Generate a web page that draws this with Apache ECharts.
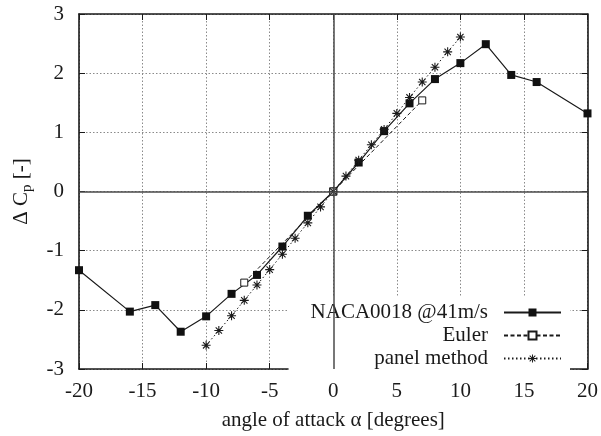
<!DOCTYPE html>
<html>
<head>
<meta charset="utf-8">
<script src="https://cdn.jsdelivr.net/npm/echarts@6/dist/echarts.min.js"></script>
<style>
  html, body { margin: 0; padding: 0; background: #fff; }
  #chart { width: 601px; height: 436px; }
</style>
</head>
<body>
<div id="chart"></div>
<script>
// Pressure difference coefficient vs angle of attack
const nacaAngles = [-20, -16, -14, -12, -10, -8, -6, -4, -2, 0, 2, 4, 6, 8, 10, 12, 14, 16, 20];
const nacaValues = [-1.33, -2.03, -1.92, -2.37, -2.11, -1.73, -1.41, -0.93, -0.41, 0, 0.49, 1.02, 1.49, 1.90, 2.17, 2.49, 1.97, 1.85, 1.32];

const eulerAngles = [-7, 0, 7];
const eulerValues = [-1.54, 0, 1.54];

const panelAngles = [-10, -9, -8, -7, -6, -5, -4, -3, -2, -1, 0, 1, 2, 3, 4, 5, 6, 7, 8, 9, 10];
const panelValues = [-2.60, -2.35, -2.10, -1.84, -1.58, -1.32, -1.06, -0.79, -0.53, -0.26, 0, 0.26, 0.53, 0.79, 1.05, 1.32, 1.59, 1.85, 2.10, 2.36, 2.61];

const seriesNames = ['NACA0018 @41m/s', 'Euler', 'panel method'];
const xTicks = { min: -20, max: 20, interval: 5 };
const yTicks = { min: -3, max: 3, interval: 1 };

const FONT = 'Liberation Serif';
const INK = '#1a1a1a';
const FS = 21;

// asterisk marker: a plus and a cross built from thin bars
const asterisk = 'path://M-0.6,-5L0.6,-5L0.6,5L-0.6,5Z' +
  'M-5,-0.6L5,-0.6L5,0.6L-5,0.6Z' +
  'M-3.1,-3.95L3.95,3.1L3.1,3.95L-3.95,-3.1Z' +
  'M-3.95,3.1L3.1,-3.95L3.95,-3.1L-3.1,3.95Z';

const pairs = (xs, ys) => xs.map((x, i) => [x, ys[i]]);

const frameLine = { show: true, onZero: false, lineStyle: { color: INK, width: 1.6 } };
const innerTick = { show: true, inside: true, length: 6, lineStyle: { color: INK, width: 1 } };
const gridLine = { show: true, lineStyle: { color: '#8a8a8a', width: 1, type: [1.5, 2] } };

const chart = echarts.init(document.getElementById('chart'), null, { renderer: 'canvas' });

chart.setOption({
  backgroundColor: '#fff',
  animation: false,
  textStyle: { fontFamily: FONT },
  grid: { left: 79, right: 13, top: 14, bottom: 64, containLabel: false },
  xAxis: [
    {
      type: 'value', position: 'bottom', ...xTicks,
      axisLine: frameLine, axisTick: innerTick, splitLine: gridLine,
      axisLabel: { color: INK, fontSize: FS, fontFamily: FONT, margin: 12 },
      name: 'angle of attack \u03b1 [degrees]', nameLocation: 'middle', nameGap: 41,
      nameTextStyle: { color: INK, fontSize: FS, fontFamily: FONT }
    },
    {
      type: 'value', position: 'top', ...xTicks,
      axisLine: frameLine, axisTick: innerTick, splitLine: { show: false },
      axisLabel: { show: false }
    }
  ],
  yAxis: [
    {
      type: 'value', position: 'left', ...yTicks,
      axisLine: frameLine, axisTick: innerTick, splitLine: gridLine,
      axisLabel: { color: INK, fontSize: FS, fontFamily: FONT, margin: 15 },
      name: '\u0394 C{sub|p} [-]', nameLocation: 'middle', nameGap: 44,
      nameTextStyle: {
        color: INK, fontSize: FS, fontFamily: FONT,
        rich: { sub: { fontSize: 15, fontFamily: FONT, color: INK, padding: [12, 0, 0, 0] } }
      }
    },
    {
      type: 'value', position: 'right', ...yTicks,
      axisLine: frameLine, axisTick: innerTick, splitLine: { show: false },
      axisLabel: { show: false }
    }
  ],
  legend: {
    orient: 'vertical', align: 'right',
    right: 31, top: 297, z: 1,
    padding: [5, 8, 2, 22],
    backgroundColor: '#fff',
    itemWidth: 57, itemHeight: 10, itemGap: 2,
    selectedMode: false,
    textStyle: { color: INK, fontSize: FS, fontFamily: FONT, lineHeight: 20, padding: [0, 11, 0, 0] },
    data: seriesNames
  },
  series: [
    {
      name: seriesNames[0], type: 'line', z: 3,
      data: pairs(nacaAngles, nacaValues),
      symbol: 'rect', symbolSize: 8,
      lineStyle: { color: INK, width: 1.2, type: 'solid' },
      itemStyle: { color: '#111' },
      markLine: {
        silent: true, symbol: 'none', animation: false,
        label: { show: false },
        lineStyle: { color: '#4a4a4a', width: 1.5, type: 'solid' },
        data: [{ xAxis: 0 }, { yAxis: 0 }]
      }
    },
    {
      name: seriesNames[1], type: 'line', z: 3,
      data: pairs(eulerAngles, eulerValues),
      symbol: 'rect', symbolSize: 7,
      lineStyle: { color: INK, width: 1, type: [4, 2.5] },
      itemStyle: { color: '#fff', borderColor: INK, borderWidth: 1 }
    },
    {
      name: seriesNames[2], type: 'line', z: 3,
      data: pairs(panelAngles, panelValues),
      symbol: asterisk, symbolSize: 9,
      lineStyle: { color: INK, width: 1, type: [1.5, 2.5] },
      itemStyle: { color: INK }
    }
  ]
});
</script>
</body>
</html>
